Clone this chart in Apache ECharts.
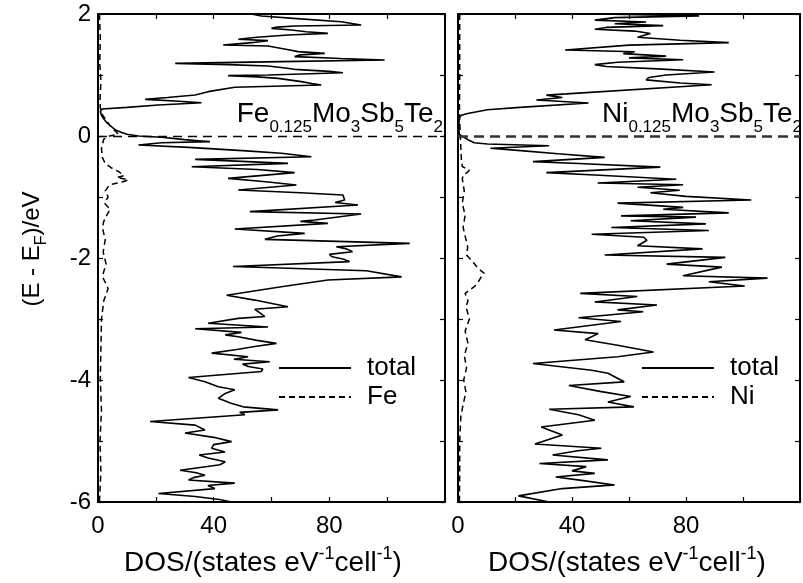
<!DOCTYPE html>
<html>
<head>
<meta charset="utf-8">
<script src="https://cdn.jsdelivr.net/npm/echarts/dist/echarts.min.js"></script>
<style>
  html, body { margin: 0; padding: 0; background: #fff; }
  #main { width: 803px; height: 583px; }
</style>
</head>
<body>
<div id="main"></div>
<script>
// E - E_F (eV) and DOS (states/eV/cell), top to bottom
const feTotalE = [2.00, 1.967, 1.92, 1.874, 1.82, 1.803, 1.785, 1.765, 1.738, 1.71, 1.683, 1.656, 1.62, 1.585, 1.563, 1.53, 1.492, 1.475, 1.43, 1.383, 1.355, 1.33, 1.301, 1.27, 1.246, 1.219, 1.191, 1.17, 1.148, 1.12, 1.093, 1.06, 1.038, 1.00, 0.989, 0.97, 0.945, 0.891, 0.86, 0.836, 0.798, 0.727, 0.672, 0.63, 0.601, 0.57, 0.546, 0.508, 0.47, 0.443, 0.40, 0.34, 0.28, 0.22, 0.16, 0.10, 0.06, 0.03, 0.00, -0.02, -0.06, -0.093, -0.11, -0.148, -0.186, -0.24, -0.284, -0.339, -0.383, -0.448, -0.503, -0.55, -0.60, -0.694, -0.75, -0.803, -0.885, -0.93, -0.967, -1.049, -1.09, -1.131, -1.24, -1.279, -1.377, -1.40, -1.432, -1.525, -1.596, -1.64, -1.694, -1.76, -1.815, -1.85, -1.897, -1.94, -1.98, -2.02, -2.06, -2.14, -2.21, -2.31, -2.36, -2.47, -2.61, -2.69, -2.80, -2.84, -2.90, -2.96, -2.99, -3.07, -3.13, -3.16, -3.22, -3.26, -3.29, -3.35, -3.40, -3.45, -3.50, -3.56, -3.62, -3.66, -3.70, -3.74, -3.78, -3.82, -3.86, -3.96, -4.03, -4.11, -4.16, -4.22, -4.30, -4.38, -4.44, -4.49, -4.53, -4.57, -4.68, -4.74, -4.82, -4.87, -4.94, -5.01, -5.06, -5.12, -5.18, -5.23, -5.28, -5.34, -5.39, -5.48, -5.52, -5.56, -5.60, -5.64, -5.69, -5.73, -5.78, -5.86, -5.91, -5.96, -6.00];
const feTotalDos = [53, 56.5, 70, 84.1, 91, 68, 62, 60, 66.9, 72, 79.5, 65.7, 55, 48.5, 58.8, 53.1, 43.3, 58.8, 64, 69.2, 78.4, 70, 68, 84, 99.1, 63.4, 26.7, 45, 58.8, 64, 68, 80, 84.7, 58.8, 45, 55, 62.3, 70.3, 74, 77.2, 47.3, 38.1, 33.6, 24, 16.3, 28, 35.8, 20.9, 10, 1.4, 0.8, 1.2, 2.0, 3.0, 4.5, 6, 8, 10, 14, 22, 30, 38.7, 22, 14, 31.3, 50, 63.4, 73.8, 33.6, 65.7, 32.4, 55, 68, 45, 58, 68.6, 48.5, 70, 84.7, 85.3, 82, 89.9, 52.5, 91, 74.9, 70, 79.5, 47.3, 71.5, 62, 57.7, 107.8, 82.4, 86, 88, 80, 81, 85, 87, 46.7, 92.8, 105, 79.5, 63.4, 44.5, 54.2, 65.7, 54.2, 56, 57.7, 48.5, 38.1, 58.8, 33.6, 49.6, 44, 48.5, 55, 61.7, 54.2, 48, 39.3, 51.9, 47, 59.4, 50, 52, 57, 56.5, 31.3, 37, 41.6, 47.3, 44, 41.6, 46, 50.2, 62.3, 49, 50.8, 18, 33.6, 37, 30.1, 40, 46.2, 40, 39.3, 43.9, 35, 38.1, 44, 42.2, 28.4, 34, 37, 33, 31.3, 47.3, 38, 40.4, 20.9, 33.6, 42, 46.2];

const fePartE = [2.0, 1.6, 1.2, 0.9, 0.6, 0.45, 0.35, 0.25, 0.15, 0.08, 0.03, 0.0, -0.05, -0.2, -0.35, -0.45, -0.52, -0.58, -0.65, -0.68, -0.72, -0.76, -0.8, -0.9, -1.0, -1.1, -1.2, -1.3, -1.4, -1.5, -1.7, -1.9, -2.1, -2.3, -2.5, -2.7, -3.0, -3.5, -4.0, -4.5, -5.0, -5.5, -6.0];
const fePartDos = [0.5, 0.8, 0.6, 1.0, 0.7, 0.8, 1.5, 3, 4.5, 6, 7, 4, 2, 1.2, 1.5, 2.5, 4.5, 7, 9, 6.5, 10.5, 8, 4, 2.5, 3.5, 2.2, 4.2, 3, 2, 1.5, 2.5, 1.8, 2.8, 1.5, 3.5, 2, 1.2, 1.0, 0.8, 1.2, 0.7, 1.0, 0.5];

const niTotalE = [2.00, 1.97, 1.94, 1.90, 1.87, 1.84, 1.81, 1.78, 1.75, 1.72, 1.68, 1.62, 1.57, 1.53, 1.49, 1.41, 1.38, 1.35, 1.31, 1.28, 1.25, 1.21, 1.17, 1.14, 1.10, 1.05, 1.00, 0.96, 0.92, 0.87, 0.84, 0.82, 0.69, 0.67, 0.63, 0.59, 0.54, 0.47, 0.43, 0.37, 0.34, 0.30, 0.10, 0.02, -0.01, -0.06, -0.11, -0.13, -0.16, -0.20, -0.24, -0.29, -0.35, -0.42, -0.45, -0.51, -0.60, -0.64, -0.71, -0.77, -0.80, -0.84, -0.89, -0.93, -0.99, -1.05, -1.10, -1.17, -1.20, -1.26, -1.31, -1.33, -1.39, -1.44, -1.50, -1.55, -1.61, -1.66, -1.71, -1.80, -1.85, -1.95, -1.99, -2.10, -2.15, -2.29, -2.33, -2.39, -2.46, -2.58, -2.63, -2.72, -2.77, -2.85, -2.88, -2.98, -3.04, -3.18, -3.24, -3.34, -3.43, -3.54, -3.62, -3.73, -3.84, -3.89, -4.03, -4.09, -4.19, -4.27, -4.36, -4.44, -4.48, -4.57, -4.66, -4.77, -4.90, -5.05, -5.12, -5.16, -5.23, -5.31, -5.37, -5.42, -5.49, -5.53, -5.59, -5.65, -5.72, -5.78, -5.90, -6.00];
const niTotalDos = [50, 84.6, 55, 48, 66, 55, 72, 52, 48, 62, 67.5, 63, 78, 95, 60, 37.6, 62, 58, 73, 60, 79, 56, 48, 52, 70, 90, 73, 67, 66, 78, 89, 89, 38, 31, 36.6, 27.5, 45.8, 21.7, 10.3, 3.4, 1.2, 0.4, 0.3, 0.5, 1.2, 3.5, 5.7, 10.3, 32, 11.4, 22, 35, 51.5, 26.3, 42.3, 71, 31, 48, 76.6, 49, 79, 63, 77.8, 67.5, 80, 102.9, 56, 79, 72, 95, 57.2, 83.5, 60.6, 87, 53.8, 88, 46.9, 65.2, 66.3, 63, 85.8, 51.5, 93.8, 73.2, 92.6, 78.9, 108.6, 88, 100.6, 42.9, 62.9, 48, 69.8, 56, 65, 42.3, 57.2, 33.7, 49.2, 44.6, 56, 68.6, 56, 26.3, 46.9, 52.6, 58.3, 38.9, 50.3, 60.6, 52.6, 61.7, 32, 42.3, 48, 29.2, 36.6, 27, 50.3, 42, 33.2, 52.6, 28.6, 45, 40, 48, 34.3, 44, 54.9, 36.6, 21.2, 32];

const niPartE = [2.0, 1.0, 0.4, 0.0, -0.2, -0.4, -0.5, -0.56, -0.6, -0.63, -0.7, -0.9, -1.1, -1.3, -1.5, -1.7, -1.82, -1.95, -2.09, -2.17, -2.25, -2.32, -2.40, -2.47, -2.58, -2.7, -2.8, -3.0, -3.2, -3.4, -3.6, -3.8, -4.0, -4.2, -4.4, -4.6, -5.0, -5.5, -6.0];
const niPartDos = [0.6, 0.6, 0.5, 0.8, 1.0, 1.2, 1.5, 4, 3.2, 2, 1.5, 2.2, 1.5, 2.5, 1.8, 2.8, 3.4, 3.0, 5.7, 7, 9.2, 8, 7, 5.7, 2.5, 3.5, 2.8, 4.0, 2.5, 3.5, 2.2, 3.0, 2.0, 2.8, 1.8, 1.0, 0.6, 0.6, 0.5];

const fermiLevel = 0;
const energyRange = [-6, 2];
const dosRange = [0, 120];

const font = '"Liberation Sans", Arial, sans-serif';
const pairs = (dos, e) => dos.map((d, i) => [d, e[i]]);

function xAx(grid, pos) {
    return {
        type: 'value', gridIndex: grid, position: pos,
        min: dosRange[0], max: dosRange[1], interval: 20,
        axisLine: { show: true, onZero: false, lineStyle: { color: '#000', width: 2 } },
        axisTick: { show: true, inside: true, length: 5, lineStyle: { color: '#000', width: 1.2 } },
        splitLine: { show: false },
        axisLabel: {
            show: pos === 'bottom', margin: 12, color: '#000', fontFamily: font, fontSize: 24,
            showMinLabel: true,
            formatter: v => (v % 40 === 0 && v < 120) ? String(v) : ''
        }
    };
}
function yAx(grid, pos, labels) {
    return {
        type: 'value', gridIndex: grid, position: pos,
        min: energyRange[0], max: energyRange[1], interval: 1,
        axisLine: { show: true, onZero: false, lineStyle: { color: '#000', width: 2 } },
        axisTick: { show: true, inside: true, length: 5, lineStyle: { color: '#000', width: 1.2 } },
        splitLine: { show: false },
        axisLabel: {
            show: labels, margin: 7, color: '#000', fontFamily: font, fontSize: 24,
            showMinLabel: true, showMaxLabel: true,
            formatter: v => (v % 2 === 0) ? String(v) : ''
        }
    };
}

function total(grid, data, zeroStyle) {
    return {
        name: 'total', type: 'line', xAxisIndex: grid * 2, yAxisIndex: grid * 2,
        data: data, symbol: 'none', showSymbol: false,
        itemStyle: { color: '#000' },
        lineStyle: { color: '#000', width: 1.6 },
        markLine: {
            silent: true, symbol: 'none', label: { show: false },
            lineStyle: zeroStyle,
            data: [{ yAxis: fermiLevel }]
        }
    };
}
function partial(grid, name, data) {
    return {
        name: name, type: 'line', xAxisIndex: grid * 2, yAxisIndex: grid * 2,
        data: data, symbol: 'none', showSymbol: false,
        itemStyle: { color: '#000' },
        lineStyle: { color: '#000', width: 1.5, type: [6, 4] }
    };
}

function legend(left, names) {
    return {
        left: left, top: 350, orient: 'vertical', selectedMode: false,
        itemWidth: 72, itemHeight: 26, itemGap: 3,
        itemStyle: { opacity: 0 },
        data: names,
        textStyle: { color: '#000', fontFamily: font, fontSize: 26, padding: [0, 0, 0, 11] }
    };
}

// rich-text pieces: the main token sets the line box, sub/superscripts sit at its bottom/top
const mainFont = { fontFamily: font, fontSize: 28, lineHeight: 36, verticalAlign: 'top', color: '#000' };
const subFont = { fontFamily: font, fontSize: 17, lineHeight: 17, verticalAlign: 'bottom', color: '#000' };
const nameFont = { fontFamily: font, fontSize: 28, lineHeight: 32, verticalAlign: 'bottom', color: '#000' };
const supFont = { fontFamily: font, fontSize: 18, lineHeight: 18, verticalAlign: 'top', color: '#000' };

function compound(el) {
    return '{m|' + el + '}{s|0.125}{m|Mo}{s|3}{m|Sb}{s|5}{m|Te}{s|2}';
}
const dosTitle = '{n|DOS/(states eV}{p|-1}{n|cell}{p|-1}{n|)}';

let chart = echarts.init(document.getElementById('main'));
chart.setOption({
    animation: false,
    backgroundColor: '#fff',
    grid: [
        { left: 98, right: 358, top: 14, bottom: 81 },
        { left: 458, right: -5, top: 14, bottom: 81 }
    ],
    xAxis: [xAx(0, 'bottom'), xAx(0, 'top'), xAx(1, 'bottom'), xAx(1, 'top')],
    yAxis: [yAx(0, 'left', true), yAx(0, 'right', false), yAx(1, 'left', false), yAx(1, 'right', false)],
    legend: [legend(273, ['total', 'Fe']), legend(636, ['total', 'Ni'])],
    series: [
        total(0, pairs(feTotalDos, feTotalE), { color: '#000', width: 1.3, type: [9, 6] }),
        partial(0, 'Fe', pairs(fePartDos, fePartE)),
        total(1, pairs(niTotalDos, niTotalE), { color: '#333', width: 2.5, type: [10, 6] }),
        partial(1, 'Ni', pairs(niPartDos, niPartE))
    ],
    graphic: [
        {
            type: 'text', x: 443, y: 100, silent: true,
            style: { text: compound('Fe'), align: 'right', verticalAlign: 'top', rich: { m: mainFont, s: subFont } }
        },
        {
            type: 'text', x: 602, y: 100, silent: true,
            style: { text: compound('Ni'), align: 'left', verticalAlign: 'top', rich: { m: mainFont, s: subFont } }
        },
        {
            type: 'text', x: 263, y: 545, silent: true,
            style: { text: dosTitle, align: 'center', verticalAlign: 'top', rich: { n: nameFont, p: supFont } }
        },
        {
            type: 'text', x: 627, y: 545, silent: true,
            style: { text: dosTitle, align: 'center', verticalAlign: 'top', rich: { n: nameFont, p: supFont } }
        },
        {
            type: 'text', x: 35, y: 249, rotation: Math.PI / 2, silent: true,
            style: {
                text: '{n|(E - E}{b|F}{n|)/eV}', align: 'center', verticalAlign: 'middle',
                rich: {
                    n: { fontFamily: font, fontSize: 24, lineHeight: 29, verticalAlign: 'top', color: '#000' },
                    b: { fontFamily: font, fontSize: 16, lineHeight: 16, verticalAlign: 'bottom', color: '#000' }
                }
            }
        }
    ]
});
</script>
</body>
</html>
